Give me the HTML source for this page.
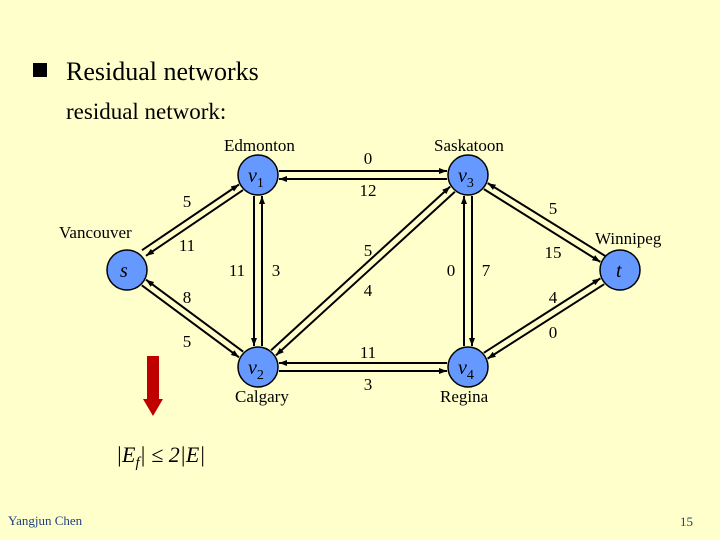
<!DOCTYPE html>
<html><head><meta charset="utf-8"><style>
html,body{margin:0;padding:0;background:#FFFFCC;}
svg{display:block;}
text{font-family:"Liberation Serif",serif;}
</style></head><body>
<svg width="720" height="540" viewBox="0 0 720 540" xmlns="http://www.w3.org/2000/svg">
<defs>
<marker id="a" markerWidth="8" markerHeight="6" refX="8" refY="3" orient="auto" markerUnits="userSpaceOnUse">
<path d="M0,0 L8,3 L0,6 z" fill="#000"/></marker>
</defs>
<rect width="720" height="540" fill="#FFFFCC"/>
<rect x="33" y="63" width="14" height="14" fill="#000"/>
<text x="66" y="80" font-size="26">Residual networks</text>
<text x="66" y="119" font-size="23">residual network:</text>

<g stroke="#000" stroke-width="2" fill="none" marker-end="url(#a)">
<line x1="142" y1="250.2" x2="239" y2="184.5"/>
<line x1="243" y1="190.1" x2="146" y2="255.8"/>
<line x1="243.2" y1="351.7" x2="146" y2="279.7"/>
<line x1="141.8" y1="285.3" x2="239" y2="357.3"/>
<line x1="254" y1="196" x2="254" y2="346"/>
<line x1="262" y1="346" x2="262" y2="196"/>
<line x1="279" y1="171" x2="447" y2="171"/>
<line x1="447" y1="179" x2="279" y2="179"/>
<line x1="271.1" y1="350.2" x2="450.1" y2="186.6"/>
<line x1="454.9" y1="191.8" x2="275.9" y2="355.4"/>
<line x1="447" y1="363" x2="279" y2="363"/>
<line x1="279" y1="371" x2="447" y2="371"/>
<line x1="464" y1="346" x2="464" y2="196"/>
<line x1="472" y1="196" x2="472" y2="346"/>
<line x1="605.1" y1="255.9" x2="487.7" y2="183.1"/>
<line x1="483.9" y1="189.1" x2="600.3" y2="261.9"/>
<line x1="483.8" y1="352.8" x2="600.4" y2="278.4"/>
<line x1="604.2" y1="284.2" x2="487.6" y2="358.6"/>
</g>

<g fill="#6699FF" stroke="#000" stroke-width="1.5">
<circle cx="127" cy="270" r="20"/>
<circle cx="258" cy="175" r="20"/>
<circle cx="258" cy="367" r="20"/>
<circle cx="468" cy="175" r="20"/>
<circle cx="468" cy="367" r="20"/>
<circle cx="620" cy="270" r="20"/>
</g>
<g font-size="20" font-style="italic" fill="#000">
<text x="120" y="277">s</text>
<text x="248" y="182">v<tspan font-size="14" font-style="normal" dy="5">1</tspan></text>
<text x="248" y="374">v<tspan font-size="14" font-style="normal" dy="5">2</tspan></text>
<text x="458" y="182">v<tspan font-size="14" font-style="normal" dy="5">3</tspan></text>
<text x="458" y="374">v<tspan font-size="14" font-style="normal" dy="5">4</tspan></text>
<text x="616" y="277">t</text>
</g>
<g font-size="17" fill="#000">
<text x="224" y="151">Edmonton</text>
<text x="434" y="151">Saskatoon</text>
<text x="59" y="238">Vancouver</text>
<text x="595" y="244">Winnipeg</text>
<text x="235" y="402">Calgary</text>
<text x="440" y="402">Regina</text>
</g>
<g font-size="17" fill="#000" text-anchor="middle">
<text x="187" y="207">5</text>
<text x="187" y="251">11</text>
<text x="187" y="303">8</text>
<text x="187" y="347">5</text>
<text x="237" y="276">11</text>
<text x="276" y="276">3</text>
<text x="368" y="164">0</text>
<text x="368" y="196">12</text>
<text x="368" y="256">5</text>
<text x="368" y="296">4</text>
<text x="368" y="358">11</text>
<text x="368" y="390">3</text>
<text x="451" y="276">0</text>
<text x="486" y="276">7</text>
<text x="553" y="214">5</text>
<text x="553" y="258">15</text>
<text x="553" y="303">4</text>
<text x="553" y="338">0</text>
</g>
<rect x="147" y="356" width="12" height="44" fill="#C00000"/>
<polygon points="143,399 163,399 153,416" fill="#C00000"/>
<text x="116" y="462" font-size="22" font-style="italic">|E<tspan font-size="15" dy="5">f</tspan><tspan dy="-5">|  ≤ 2|E|</tspan></text>
<text x="8" y="525" font-size="13" fill="#1F3F7F">Yangjun Chen</text>
<text x="680" y="526" font-size="13" fill="#1F3F7F">15</text>
</svg>
</body></html>
